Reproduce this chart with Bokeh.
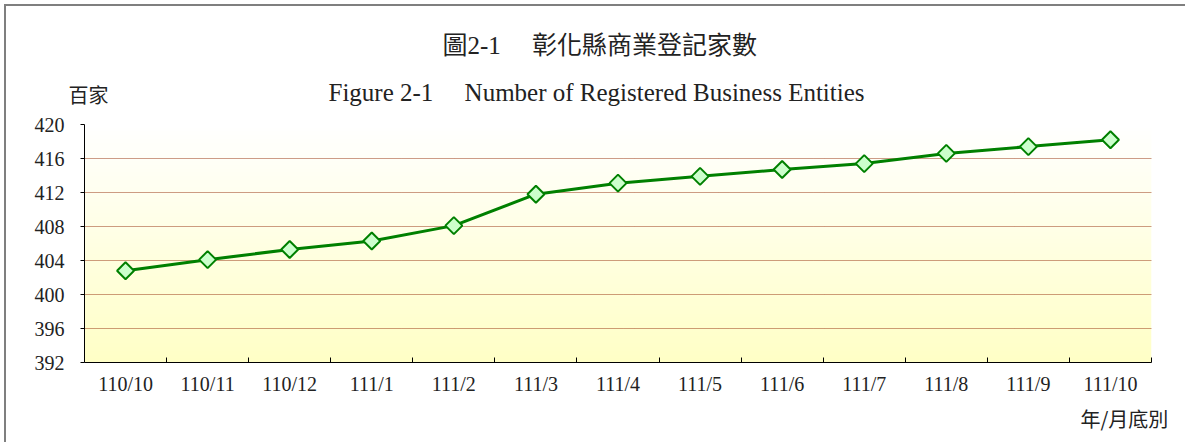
import numpy as np
from bokeh.plotting import figure
from bokeh.models import FixedTicker, Label, Range1d
from bokeh.embed import file_html
from bokeh.resources import INLINE

months = ["110/10", "110/11", "110/12", "111/1", "111/2", "111/3", "111/4",
          "111/5", "111/6", "111/7", "111/8", "111/9", "111/10"]
values = [402.8, 404.1, 405.3, 406.3, 408.1, 411.8, 413.1,
          413.9, 414.7, 415.4, 416.6, 417.4, 418.2]
y_ticks = [392, 396, 400, 404, 408, 412, 416, 420]

NBSP = "\u00a0"
title_zh = "圖2-1" + "\u3000" + NBSP + "彰化縣商業登記家數"
title_en = "Figure 2-1" + NBSP * 5 + "Number of Registered Business Entities"
y_unit = "百家"
x_unit = "年/月底別"

SERIF = "'Liberation Serif', 'Noto Sans CJK TC'"
CJK = "'Noto Sans CJK TC'"

n = len(months)
xs = [i + 0.5 for i in range(n)]
ymin, ymax = y_ticks[0], y_ticks[-1]

p = figure(frame_width=1067, frame_height=238,
           min_border_left=78, min_border_top=118,
           min_border_right=34, min_border_bottom=80,
           x_range=Range1d(0, n), y_range=Range1d(ymin, ymax),
           output_backend="svg", toolbar_location=None)
p.outline_line_color = None
p.background_fill_color = "white"
p.border_fill_color = "white"
p.styles = {"margin-left": "4px", "margin-top": "4px",
            "border-left": "2px solid #7f7f7f", "border-top": "2px solid #7f7f7f"}

# gradient background of plot area (white at top -> pale yellow at bottom)
h = 64
img = np.zeros((h, 2), dtype=np.uint32)
view = img.view(dtype=np.uint8).reshape((h, 2, 4))
for r in range(h):
    t = r / (h - 1)  # 0 bottom, 1 top
    view[r, :, 0] = 255
    view[r, :, 1] = 255
    view[r, :, 2] = int(round(198 + 57 * t))
    view[r, :, 3] = 255
p.image_rgba(image=[img], x=0, y=ymin, dw=n, dh=ymax - ymin, level="image")

# grid
p.xgrid.grid_line_color = None
p.ygrid.ticker = FixedTicker(ticks=y_ticks[1:])
p.ygrid.grid_line_color = "#9A3816"
p.ygrid.grid_line_dash = "1 1"
p.ygrid.grid_line_width = 1

# line + markers
p.line(xs, values, line_color="#008000", line_width=3)
p.scatter(xs, values, marker="square", angle=np.pi / 4, size=12,
          fill_color="#CCFFCC", line_color="#008000", line_width=2)

# x axis
xa = p.xaxis[0]
xa.ticker = FixedTicker(ticks=xs, minor_ticks=list(range(1, n + 1)))
xa.major_label_overrides = {x: m for x, m in zip(xs, months)}
xa.major_tick_line_color = None
xa.major_tick_in = 0
xa.major_tick_out = 0
xa.minor_tick_in = 5
xa.minor_tick_out = 0
xa.minor_tick_line_color = "black"
xa.axis_line_color = "black"
xa.major_label_text_font = SERIF
xa.major_label_text_font_size = "20px"
xa.major_label_text_color = "#222222"
xa.major_label_standoff = 10

# y axis
ya = p.yaxis[0]
ya.ticker = FixedTicker(ticks=y_ticks)
ya.major_tick_in = 0
ya.major_tick_out = 4
ya.minor_tick_line_color = None
ya.axis_line_color = "black"
ya.major_label_text_font = SERIF
ya.major_label_text_font_size = "20px"
ya.major_label_text_color = "#222222"
ya.major_label_standoff = 16

def lab(text, sx, sy, size, font, side, baseline="middle"):
    p.add_layout(Label(x=sx, y=sy, x_units="screen", y_units="screen", text=text,
                       text_font=font, text_font_size=size, text_color="#222222",
                       text_baseline=baseline, text_align="left"), side)

# each label sits in its own side panel; coordinates are relative to that panel
lab(title_en, 244, 32, "25px", SERIF, "above", baseline="alphabetic")
lab(y_unit, -16, 3, "20px", CJK, "above")
lab(title_zh, 358, 23, "25px", SERIF, "above")
lab(x_unit, 996, 8, "20px", CJK, "below")

open("out.html", "w").write(file_html(p, INLINE))
